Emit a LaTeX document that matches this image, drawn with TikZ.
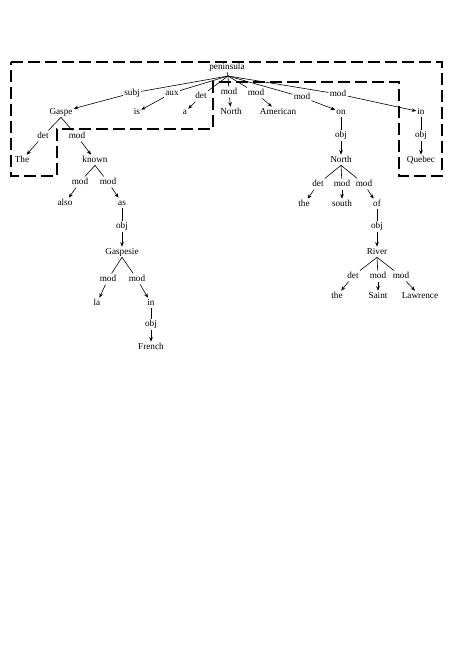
\documentclass[tikz,border=0pt]{standalone}
\usepackage{fontspec}
\setmainfont{Liberation Serif}
\usetikzlibrary{arrows.meta}
\begin{document}
\begin{tikzpicture}[x=1pt,y=-1pt,
  w/.style={font=\fontsize{9.2}{10}\selectfont, inner sep=1pt, text height=6.4pt, text depth=1.8pt},
  lb/.style={w, inner sep=1.2pt},
  arr/.style={-{Stealth[length=4.5pt,width=3.6pt]}, line width=0.6pt},
  ln/.style={line width=0.6pt},
  boxline/.style={line width=1.5pt, dash pattern=on 12pt off 5pt}]
\useasboundingbox (0,0) rectangle (473,667);

% dashed region
\draw[boxline] (11,62) -- (442,62) -- (442,176) -- (399,176) -- (399,82) -- (213,82)
  -- (213,129) -- (57,129) -- (57,176) -- (11,176) -- cycle;

% root
\node[w] (pen) at (227,67) {peninsula};
\coordinate (ap) at (228,76);

% top-level words
\node[w] (gaspe) at (61,112) {Gaspe};
\node[w] (is) at (137,112) {is};
\node[w] (a) at (185,112) {a};
\node[w] (north1) at (231,112) {North};
\node[w] (american) at (278,112) {American};
\node[w] (on) at (341,112) {on};
\node[w] (in1) at (421,112) {in};

% top-level labels
\node[lb] (l1) at (132,93) {subj};
\node[lb] (l2) at (172,93) {aux};
\node[lb] (l3) at (201,96) {det};
\node[lb] (l4) at (229,92) {mod};
\node[lb] (l5) at (256,93) {mod};
\node[lb] (l6) at (302,97) {mod};
\node[lb] (l7) at (338,94) {mod};

\draw[ln] (pen.south) -- (ap);
\foreach \l/\d in {l1/gaspe,l2/is,l3/a,l4/north1,l5/american,l6/on,l7/in1}{
  \draw[ln] (ap) -- (\l);
  \draw[arr] (\l) -- (\d);
}

% Gaspe subtree
\node[lb] (g1) at (43,136) {det};
\node[lb] (g2) at (77,136) {mod};
\node[w] (the1) at (22,160) {The};
\node[w] (known) at (95,160) {known};
\node[lb] (k1) at (80,182) {mod};
\node[lb] (k2) at (108,182) {mod};
\node[w] (also) at (65,203) {also};
\node[w] (as) at (122,203) {as};
\node[lb] (a1) at (122,226) {obj};
\node[w] (gaspesie) at (122,252) {Gaspesie};
\node[lb] (s1) at (108,279) {mod};
\node[lb] (s2) at (137,279) {mod};
\node[w] (la) at (97,303) {la};
\node[w] (in2) at (151,303) {in};
\node[lb] (i1) at (151,324) {obj};
\node[w] (french) at (151,347) {French};

\foreach \h/\l/\d in {gaspe/g1/the1, gaspe/g2/known, known/k1/also, known/k2/as,
  as/a1/gaspesie, gaspesie/s1/la, gaspesie/s2/in2, in2/i1/french}{
  \draw[ln] (\h.south) -- (\l);
  \draw[arr] (\l) -- (\d);
}

% on subtree
\node[lb] (o1) at (341,135) {obj};
\node[w] (north2) at (341,160) {North};
\node[lb] (n1) at (318,184) {det};
\node[lb] (n2) at (342,184) {mod};
\node[lb] (n3) at (364,184) {mod};
\node[w] (the2) at (304,204) {the};
\node[w] (south) at (342,204) {south};
\node[w] (of) at (377,204) {of};
\node[lb] (f1) at (377,226) {obj};
\node[w] (river) at (377,252) {River};
\node[lb] (r1) at (353,276) {det};
\node[lb] (r2) at (378,276) {mod};
\node[lb] (r3) at (401,276) {mod};
\node[w] (the3) at (337,296) {the};
\node[w] (saint) at (378,296) {Saint};
\node[w] (lawrence) at (420,296) {Lawrence};

% in subtree
\node[lb] (q1) at (421,135) {obj};
\node[w] (quebec) at (421,160) {Quebec};

\foreach \h/\l/\d in {on/o1/north2, north2/n1/the2, north2/n2/south, north2/n3/of,
  of/f1/river, river/r1/the3, river/r2/saint, river/r3/lawrence, in1/q1/quebec}{
  \draw[ln] (\h.south) -- (\l);
  \draw[arr] (\l) -- (\d);
}
\end{tikzpicture}
\end{document}
